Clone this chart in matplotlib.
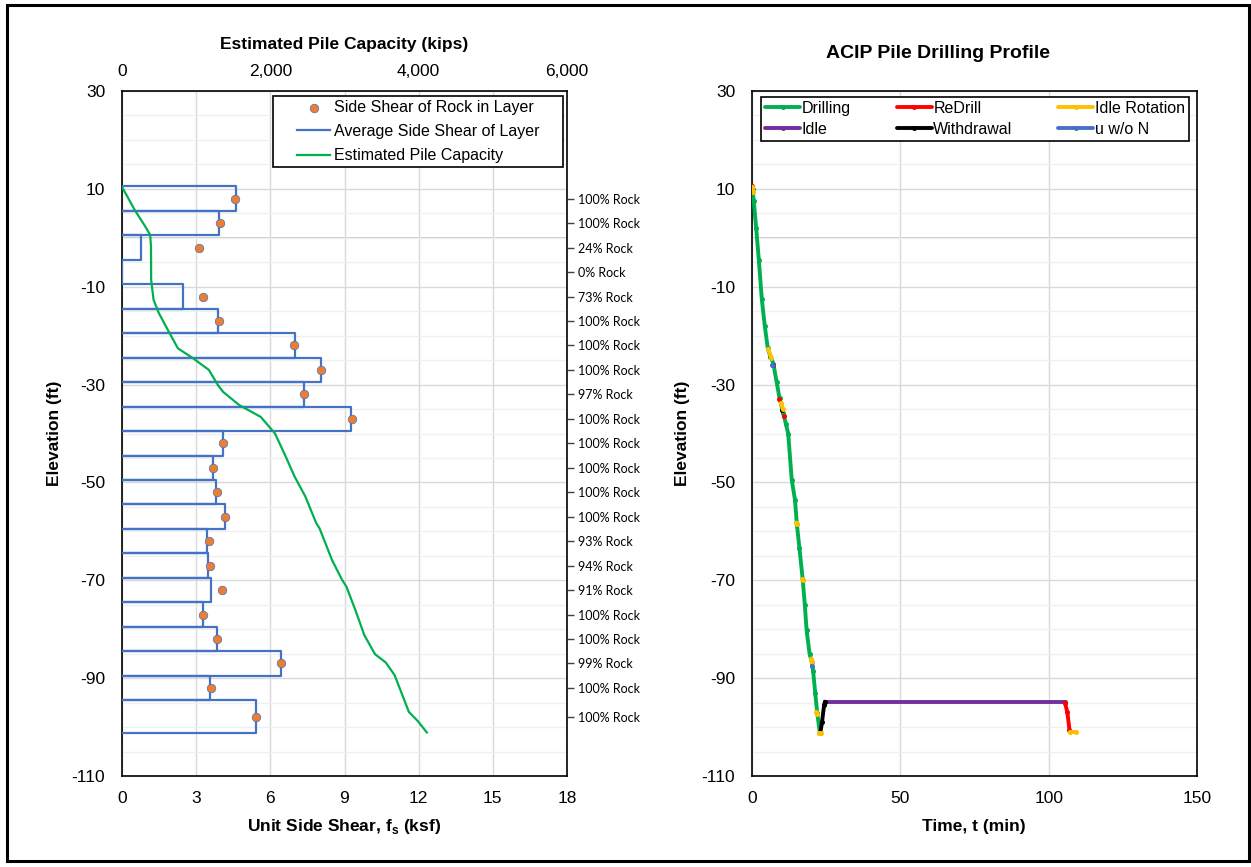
import numpy as np
import matplotlib
matplotlib.use("Agg")
import matplotlib.pyplot as plt
from matplotlib.ticker import MultipleLocator, FixedLocator, FuncFormatter
from matplotlib.patches import Rectangle

plt.rcParams['font.family'] = ['Liberation Sans', 'DejaVu Sans']
plt.rcParams['axes.unicode_minus'] = False
plt.rcParams['mathtext.fontset'] = 'custom'
plt.rcParams['mathtext.rm'] = 'Liberation Sans'
plt.rcParams['mathtext.bf'] = 'Liberation Sans:bold'

# ---------------- Layer data (side shear profile) ----------------
layer_top = [10.5, 5.5, 0.5, -4.5, -9.5, -14.5, -19.5, -24.5, -29.5, -34.5, -39.5,
             -44.5, -49.5, -54.5, -59.5, -64.5, -69.5, -74.5, -79.5, -84.5, -89.5, -94.5]
layer_bottom = [5.5, 0.5, -4.5, -9.5, -14.5, -19.5, -24.5, -29.5, -34.5, -39.5, -44.5,
                -49.5, -54.5, -59.5, -64.5, -69.5, -74.5, -79.5, -84.5, -89.5, -94.5, -101.3]
avg_side_shear = [4.60, 3.94, 0.76, 0.00, 2.46, 3.88, 6.98, 8.06, 7.37, 9.28, 4.07,
                  3.68, 3.82, 4.17, 3.42, 3.47, 3.59, 3.27, 3.86, 6.45, 3.57, 5.43]
rock_side_shear = [4.59, 3.95, 3.13, np.nan, 3.27, 3.91, 6.96, 8.03, 7.38, 9.29, 4.10,
                   3.70, 3.85, 4.18, 3.52, 3.56, 4.04, 3.27, 3.85, 6.43, 3.60, 5.40]
rock_pct = [100, 100, 24, 0, 73, 100, 100, 100, 97, 100, 100,
            100, 100, 100, 93, 94, 91, 100, 100, 99, 100, 100]

# Estimated pile capacity vs elevation
cap_elev = [10.4, 5.7, 2.3, 0.6, -1.8, -8.6, -12.7, -15.4, -19.5, -22.6, -24.6, -27.0,
            -30.1, -31.5, -34.2, -36.6, -40.0, -44.7, -48.8, -52.9, -58.3, -59.4, -65.9,
            -69.9, -71.3, -76.1, -81.2, -85.1, -86.8, -89.4, -96.9, -98.8, -101.1]
cap_kips = [0, 171, 314, 380, 391, 393, 426, 497, 642, 754, 956, 1171,
            1293, 1364, 1581, 1870, 2063, 2207, 2327, 2473, 2618, 2664, 2833,
            2967, 3026, 3147, 3267, 3411, 3556, 3676, 3868, 3990, 4110]

# ---------------- Drilling log (time in min, elevation in ft) ----------------
drill_t = [0.2, 0.6, 1.4, 2.3, 3.3, 4.3, 5.3, 6.2, 7.2, 8.3, 9.3, 10.5, 11.4, 12.2,
           13.4, 14.5, 15.1, 16.0, 17.1, 17.8, 18.4, 19.4, 20.1, 20.6, 21.3, 22.0, 22.9]
drill_z = [10.0, 7.5, 2.0, -4.5, -12.5, -18.0, -22.5, -24.3, -25.7, -29.5, -32.8, -35.8,
           -38.0, -40.0, -49.5, -53.6, -58.4, -63.5, -69.9, -75.0, -80.2, -85.0, -86.6,
           -88.5, -93.0, -97.2, -101.3]

redrill_t = [0.0, np.nan, 9.2, np.nan, 10.8, np.nan, 105.5, 106.3, 107.0]
redrill_z = [10.5, np.nan, -33.0, np.nan, -36.5, np.nan, -95.0, -97.0, -100.5]

idle_rot_t = [0.1, 0.5, np.nan, 5.5, 6.5, np.nan, 9.8, 10.4, np.nan, 14.9, 15.2, np.nan,
              17.0, 17.2, np.nan, 19.9, 20.2, np.nan, 21.7, 21.9, np.nan, 22.5, 23.1,
              np.nan, 107.2, 109.2]
idle_rot_z = [10.3, 9.3, np.nan, -22.8, -24.5, np.nan, -33.8, -35.0, np.nan, -58.2, -58.4,
              np.nan, -69.8, -70.0, np.nan, -86.0, -86.8, np.nan, -97.0, -97.3, np.nan,
              -101.3, -101.3, np.nan, -101.0, -101.0]

idle_t = [7.0, 7.1, np.nan, 24.6, 105.5]
idle_z = [-26.0, -26.0, np.nan, -94.8, -94.8]

withdraw_t = [10.2, np.nan, 23.0, 23.6, 24.3, 24.6]
withdraw_z = [-35.2, np.nan, -101.3, -99.0, -95.5, -94.8]

uwon_t = [6.9, np.nan, 20.3]
uwon_z = [-26.0, np.nan, -87.5]

# ---------------- Figure layout ----------------
W, H = 1251, 867
fig = plt.figure(figsize=(W / 100, H / 100), dpi=100)


def px_box(x0, y0, x1, y1):
    return [x0 / W, 1 - y1 / H, (x1 - x0) / W, (y1 - y0) / H]


TICK_FS = 12.5
LABEL_FS = 12.5
LEG_FS = 11.5
BLUE = '#4472C4'
ORANGE = '#ED7D31'
GREEN = '#00B050'


def style_elevation_axis(ax):
    ax.set_ylim(-110, 30)
    ax.yaxis.set_major_locator(FixedLocator(np.arange(30, -111, -20)))
    ax.yaxis.set_minor_locator(MultipleLocator(5))
    ax.grid(True, which='major', axis='y', color='#D9D9D9', lw=1.0, zorder=0)
    ax.grid(True, which='minor', axis='y', color='#F0F0F0', lw=1.0, zorder=0)
    ax.axhline(0, color='#BFBFBF', lw=1.2, zorder=0.5)
    ax.tick_params(axis='y', which='both', length=0, labelsize=TICK_FS, pad=12)
    ax.tick_params(axis='x', which='both', length=0, labelsize=TICK_FS, pad=11)
    for s in ax.spines.values():
        s.set_color('black')
        s.set_linewidth(1.2)
    ax.set_axisbelow(True)


def framed_legend(ax, handles, labels, box_px, **kw):
    """Legend centred inside a fixed pixel box with a square black frame."""
    x0, y0, x1, y1 = box_px
    cx, cy = (x0 + x1) / 2 / W, 1 - (y0 + y1) / 2 / H
    leg = ax.legend(handles, labels, loc='center', bbox_to_anchor=(cx, cy),
                    bbox_transform=fig.transFigure, frameon=False, fontsize=LEG_FS,
                    borderaxespad=0, borderpad=0, **kw)
    frame = Rectangle((x0 / W, 1 - y1 / H), (x1 - x0) / W, (y1 - y0) / H,
                      transform=fig.transFigure, facecolor='white', edgecolor='black',
                      lw=1.2, zorder=leg.get_zorder() - 0.1)
    fig.add_artist(frame)
    leg.set_zorder(frame.get_zorder() + 0.2)
    fig.add_artist(leg)
    return leg


# ---------------- Left panel: side shear & capacity ----------------
ax1 = fig.add_axes(px_box(122, 91, 567, 776))
style_elevation_axis(ax1)
ax1.set_xlim(0, 18)
ax1.xaxis.set_major_locator(MultipleLocator(3))
ax1.grid(True, which='major', axis='x', color='#D9D9D9', lw=1.0, zorder=0)

# layer outlines as one continuous stepped path
box_x, box_y = [], []
for top, bot, v in zip(layer_top, layer_bottom, avg_side_shear):
    box_x += [0, v, v, 0]
    box_y += [top, top, bot, bot]
line_avg, = ax1.plot(box_x, box_y, color=BLUE, lw=1.6, zorder=3)

mids = [(t + b) / 2 for t, b in zip(layer_top, layer_bottom)]
dots = ax1.scatter(rock_side_shear, mids, s=38, color=ORANGE, edgecolor=BLUE,
                   linewidth=0.5, zorder=4)

# top axis: pile capacity in kips
ax1t = ax1.twiny()
ax1t.set_xlim(0, 6000)
ax1t.xaxis.set_major_locator(FixedLocator([0, 2000, 4000, 6000]))
ax1t.xaxis.set_major_formatter(FuncFormatter(lambda v, p: f'{v:,.0f}'))
ax1t.tick_params(axis='x', length=0, labelsize=TICK_FS, pad=9)
line_cap, = ax1t.plot(cap_kips, cap_elev, color=GREEN, lw=1.6, zorder=3)
for s in ax1t.spines.values():
    s.set_visible(False)

# right axis: rock content per layer
ax1r = ax1.twinx()
ax1r.set_ylim(-110, 30)
ax1r.yaxis.set_major_locator(FixedLocator(mids))
ax1r.set_yticklabels([f'{p}% Rock' for p in rock_pct], fontfamily='Lato', fontsize=9)
ax1r.tick_params(axis='y', length=5, width=1, color='#404040', pad=3)
for s in ax1r.spines.values():
    s.set_visible(False)

framed_legend(ax1r, [dots, line_avg, line_cap],
              ['Side Shear of Rock in Layer', 'Average Side Shear of Layer',
               'Estimated Pile Capacity'],
              (273, 96, 563, 167), handlelength=2.1, handletextpad=0.2,
              labelspacing=0.58)

fig.text(344 / W, 1 - 44 / H, 'Estimated Pile Capacity (kips)', ha='center', va='center',
         fontsize=LABEL_FS, fontweight='bold')
fig.text(344 / W, 1 - 826 / H, r'Unit Side Shear, f$_\mathbf{s}$ (ksf)', ha='center',
         va='center', fontsize=LABEL_FS, fontweight='bold')
fig.text(55 / W, 1 - 433 / H, 'Elevation (ft)', ha='center', va='center', rotation=90,
         fontsize=LABEL_FS, fontweight='bold')

# ---------------- Right panel: drilling profile ----------------
ax2 = fig.add_axes(px_box(752, 91, 1197, 776))
style_elevation_axis(ax2)
ax2.set_xlim(0, 150)
ax2.xaxis.set_major_locator(MultipleLocator(50))
ax2.grid(True, which='major', axis='x', color='#D9D9D9', lw=1.0, zorder=0)

series = [
    (drill_t, drill_z, '#00B050', 'Drilling'),
    (idle_t, idle_z, '#7030A0', 'Idle'),
    (withdraw_t, withdraw_z, '#000000', 'Withdrawal'),
    (redrill_t, redrill_z, '#FF0000', 'ReDrill'),
    (idle_rot_t, idle_rot_z, '#FFC000', 'Idle Rotation'),
    (uwon_t, uwon_z, '#4472C4', 'u w/o N'),
]
handles = {}
for t, z, c, name in series:
    h, = ax2.plot(t, z, color=c, lw=2.8, marker='o', ms=2.6, zorder=3,
                  solid_capstyle='round')
    handles[name] = h

order = ['Drilling', 'Idle', 'ReDrill', 'Withdrawal', 'Idle Rotation', 'u w/o N']
leg2 = ax2.legend([handles[n] for n in order], order, ncol=3, mode='expand',
                  loc='upper left', bbox_to_anchor=(0.0202, 0.9314, 0.962, 0.06),
                  borderaxespad=0, fontsize=LEG_FS, frameon=True, fancybox=False,
                  edgecolor='black', framealpha=1, handlelength=2.2, handletextpad=0.1,
                  labelspacing=0.38, borderpad=0.25, columnspacing=1.0)
leg2.get_frame().set_linewidth(1.2)

fig.text(938 / W, 1 - 53 / H, 'ACIP Pile Drilling Profile', ha='center', va='center',
         fontsize=14, fontweight='bold')
fig.text(974 / W, 1 - 826 / H, 'Time, t (min)', ha='center', va='center',
         fontsize=LABEL_FS, fontweight='bold')
fig.text(683 / W, 1 - 433 / H, 'Elevation (ft)', ha='center', va='center', rotation=90,
         fontsize=LABEL_FS, fontweight='bold')

# outer frame
fig.add_artist(Rectangle((7 / W, 1 - 861 / H), 1242 / W, 856 / H, transform=fig.transFigure,
                         fill=False, edgecolor='black', lw=2.2))

fig.savefig('out.png', dpi=100)
